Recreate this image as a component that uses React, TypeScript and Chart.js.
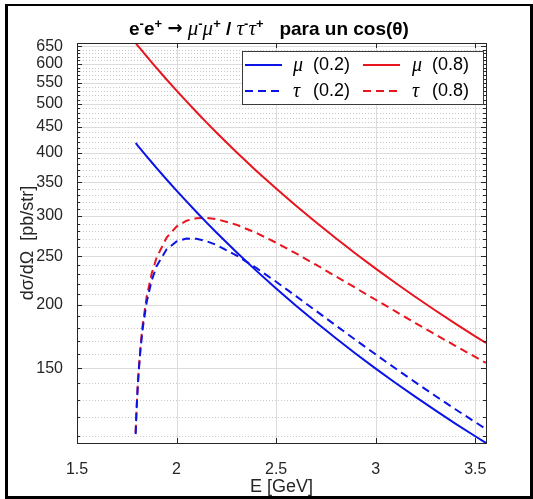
import React, { useEffect, useRef } from 'react';
import { Chart, registerables } from 'chart.js';

Chart.register(...registerables);

// ---- data ----
const energies = [1.7945, 1.797, 1.8, 1.805, 1.81, 1.82, 1.83, 1.85, 1.875, 1.9, 1.95, 2.0, 2.05, 2.1, 2.15, 2.2, 2.3, 2.4, 2.5, 2.6, 2.7, 2.8, 2.9, 3.0, 3.1, 3.2, 3.3, 3.4, 3.5, 3.554];
const muLow = [418.5, 417.36, 415.97, 413.67, 411.38, 406.88, 402.44, 393.78, 383.35, 373.33, 354.43, 336.93, 320.7, 305.6, 291.56, 278.45, 254.77, 233.98, 215.63, 199.37, 184.87, 171.9, 160.25, 149.74, 140.24, 131.61, 123.76, 116.58, 110.02, 106.7];
const muHigh = [660.0, 658.15, 655.95, 652.33, 648.72, 641.62, 634.63, 620.97, 604.53, 588.73, 558.92, 531.32, 505.72, 481.93, 459.77, 439.11, 401.76, 368.98, 340.04, 314.39, 291.54, 271.08, 252.71, 236.14, 221.16, 207.55, 195.16, 183.85, 173.5, 168.26];
const tauLow = [111.1, 118.18, 125.94, 137.54, 147.79, 165.31, 179.86, 202.82, 223.74, 238.85, 257.83, 267.28, 270.82, 270.49, 267.63, 263.05, 250.88, 236.86, 222.41, 208.29, 194.83, 182.24, 170.53, 159.73, 149.78, 140.61, 132.19, 124.45, 117.34, 113.73];
const tauHigh = [111.8, 118.97, 126.91, 138.83, 149.42, 167.67, 183.03, 207.71, 230.92, 248.41, 272.11, 286.07, 293.76, 297.17, 297.64, 295.97, 288.49, 277.85, 265.7, 253.03, 240.35, 228.02, 216.16, 204.91, 194.29, 184.28, 174.91, 166.13, 157.93, 153.71];

const seriesSymbols = ['μ', 'μ', 'τ', 'τ'];
const seriesCos = ['(0.2)', '(0.8)', '(0.2)', '(0.8)'];

const xTicks = [1.5, 2, 2.5, 3, 3.5];
const yTicks = [150, 200, 250, 300, 350, 400, 450, 500, 550, 600, 650];
const yMinorTicks = [110, 120, 130, 140, 160, 170, 180, 190, 210, 220, 230, 240, 260, 270, 280, 290, 310, 320, 330, 340, 360, 370, 380, 390, 410, 420, 430, 440, 460, 470, 480, 490, 510, 520, 530, 540, 560, 570, 580, 590, 610, 620, 630, 640];
const xRange = [1.5, 3.554];
const yRange = [106.7, 660];

const BLUE = 'rgb(10,20,230)';
const RED = 'rgb(232,20,30)';
const AX = '#262626';
const SANS = "'Liberation Sans', Arial, sans-serif";
const SERIF = "'Liberation Serif', 'Times New Roman', serif";

const pts = (ys: number[]) => energies.map((e, i) => ({ x: e, y: ys[i] }));

const decor = {
  id: 'decor',
  beforeDatasetsDraw(chart: any) {
    const { ctx, chartArea: a, scales } = chart;
    const x = scales.x, y = scales.y;
    ctx.save();
    ctx.lineWidth = 1;
    ctx.strokeStyle = '#c9c9c9';
    ctx.setLineDash([1, 2]);
    for (const v of yMinorTicks) {
      const py = Math.round(y.getPixelForValue(v)) + 0.5;
      ctx.beginPath(); ctx.moveTo(a.left, py); ctx.lineTo(a.right, py); ctx.stroke();
    }
    ctx.setLineDash([]);
    ctx.strokeStyle = '#dcdcdc';
    for (const v of yTicks) {
      const py = Math.round(y.getPixelForValue(v)) + 0.5;
      ctx.beginPath(); ctx.moveTo(a.left, py); ctx.lineTo(a.right, py); ctx.stroke();
    }
    for (const v of xTicks) {
      const px = Math.round(x.getPixelForValue(v)) + 0.5;
      ctx.beginPath(); ctx.moveTo(px, a.top); ctx.lineTo(px, a.bottom); ctx.stroke();
    }
    ctx.restore();
  },
  afterDatasetsDraw(chart: any) {
    const { ctx, chartArea: a, scales } = chart;
    const x = scales.x, y = scales.y;
    ctx.save();
    // axes box
    ctx.strokeStyle = AX;
    ctx.lineWidth = 1;
    ctx.strokeRect(Math.round(a.left) + 0.5, Math.round(a.top) + 0.5, Math.round(a.right - a.left), Math.round(a.bottom - a.top));
    // ticks (inward)
    ctx.beginPath();
    for (const v of xTicks) {
      const px = Math.round(x.getPixelForValue(v)) + 0.5;
      ctx.moveTo(px, a.bottom); ctx.lineTo(px, a.bottom - 5);
      ctx.moveTo(px, a.top); ctx.lineTo(px, a.top + 5);
    }
    for (const v of yTicks) {
      const py = Math.round(y.getPixelForValue(v)) + 0.5;
      ctx.moveTo(a.left, py); ctx.lineTo(a.left + 5, py);
      ctx.moveTo(a.right, py); ctx.lineTo(a.right - 5, py);
    }
    for (const v of yMinorTicks) {
      const py = Math.round(y.getPixelForValue(v)) + 0.5;
      ctx.moveTo(a.left, py); ctx.lineTo(a.left + 3, py);
      ctx.moveTo(a.right, py); ctx.lineTo(a.right - 3, py);
    }
    ctx.stroke();

    // legend
    const lx = 242.5, ly = 51.5, lw = 241, lh = 53;
    ctx.fillStyle = '#fff';
    ctx.fillRect(lx, ly, lw, lh);
    ctx.strokeStyle = '#3a3a3a';
    ctx.lineWidth = 1;
    ctx.strokeRect(lx, ly, lw, lh);
    const cols = [{ l: 245, s: 293 }, { l: 363, s: 412 }];
    const rows = [65, 91];
    chart.data.datasets.forEach((ds: any, i: number) => {
      const c = cols[i % 2];
      const r = rows[Math.floor(i / 2)];
      ctx.strokeStyle = ds.borderColor;
      ctx.lineWidth = 2;
      ctx.setLineDash(ds.borderDash || []);
      ctx.beginPath(); ctx.moveTo(c.l, r); ctx.lineTo(c.l + 37, r); ctx.stroke();
      ctx.setLineDash([]);
      ctx.fillStyle = '#000';
      ctx.textBaseline = 'middle';
      ctx.textAlign = 'left';
      ctx.font = `italic 20px ${SERIF}`;
      ctx.fillText(seriesSymbols[i], c.s, r + 1);
      ctx.font = `18px ${SANS}`;
      ctx.fillText(seriesCos[i], c.s + 20, r);
    });

    // title
    const base = `bold 19px ${SANS}`;
    const arrow = `bold 18px 'DejaVu Sans', sans-serif`;
    const sup = `bold 13px ${SANS}`;
    const greek = `italic 21px ${SERIF}`;
    const parts: { t: string; f: string; s?: boolean; dy?: number }[] = [
      { t: 'e', f: base }, { t: '-', f: sup, s: true }, { t: 'e', f: base }, { t: '+', f: sup, s: true },
      { t: ' ', f: base }, { t: '→', f: arrow, dy: -1 }, { t: ' ', f: base },
      { t: 'μ', f: greek }, { t: '-', f: sup, s: true }, { t: 'μ', f: greek }, { t: '+', f: sup, s: true },
      { t: ' / ', f: base },
      { t: 'τ', f: greek }, { t: '-', f: sup, s: true }, { t: 'τ', f: greek }, { t: '+', f: sup, s: true },
      { t: '   para un cos(θ)', f: base },
    ];
    let total = 0;
    for (const p of parts) { ctx.font = p.f; total += ctx.measureText(p.t).width; }
    let tx = 269 - total / 2;
    ctx.fillStyle = '#000';
    ctx.textBaseline = 'alphabetic';
    ctx.textAlign = 'left';
    for (const p of parts) {
      ctx.font = p.f;
      ctx.fillText(p.t, tx, (p.s ? 28 : 35) + (p.dy || 0));
      tx += ctx.measureText(p.t).width;
    }

    // axis labels
    ctx.fillStyle = AX;
    ctx.font = `18px ${SANS}`;
    ctx.textAlign = 'center';
    ctx.textBaseline = 'middle';
    ctx.fillText('E [GeV]', (a.left + a.right) / 2, 487);
    ctx.save();
    ctx.translate(28, (a.top + a.bottom) / 2);
    ctx.rotate(-Math.PI / 2);
    ctx.fillText('dσ/dΩ  [pb/str]', 0, 0);
    ctx.restore();

    // outer frame
    ctx.fillStyle = '#000';
    ctx.fillRect(5, 4, 3, 495);
    ctx.fillRect(5, 4, 528, 2);
    ctx.fillRect(5, 496, 528, 3);
    ctx.fillRect(530, 4, 3, 495);
    ctx.restore();
  },
};

export default function App() {
  const ref = useRef<HTMLCanvasElement>(null);
  useEffect(() => {
    const mk = (label: string, ys: number[], color: string, dashed: boolean) => ({
      label,
      data: pts(ys),
      borderColor: color,
      backgroundColor: color,
      borderWidth: 2,
      borderDash: dashed ? [8, 5] : [],
      pointRadius: 0,
      tension: 0,
      fill: false,
    });
    const chart = new Chart(ref.current as HTMLCanvasElement, {
      type: 'line',
      data: {
        datasets: [
          mk('μ (0.2)', muLow, BLUE, false),
          mk('μ (0.8)', muHigh, RED, false),
          mk('τ (0.2)', tauLow, BLUE, true),
          mk('τ (0.8)', tauHigh, RED, true),
        ],
      },
      options: {
        animation: false,
        responsive: false,
        devicePixelRatio: 1,
        layout: { padding: { top: 43, right: 47, left: 0, bottom: 0 } },
        plugins: { legend: { display: false }, title: { display: false }, tooltip: { enabled: false } },
        scales: {
          x: {
            type: 'linear',
            min: xRange[0],
            max: xRange[1],
            grid: { display: false },
            border: { display: false },
            afterBuildTicks: (s: any) => { s.ticks = xTicks.map((v) => ({ value: v })); },
            afterFit: (s: any) => { s.height = 56; },
            ticks: {
              autoSkip: false,
              maxRotation: 0,
              padding: 9,
              color: AX,
              font: { family: SANS, size: 16 },
              callback: (v: any) => String(v),
            },
          },
          y: {
            type: 'logarithmic',
            min: yRange[0],
            max: yRange[1],
            grid: { display: false },
            border: { display: false },
            afterBuildTicks: (s: any) => { s.ticks = yTicks.map((v) => ({ value: v })); },
            afterFit: (s: any) => { s.width = 77; },
            ticks: {
              autoSkip: false,
              padding: 6,
              color: AX,
              font: { family: SANS, size: 16 },
              callback: (v: any) => String(v),
            },
          },
        },
      },
      plugins: [decor],
    } as any);
    return () => chart.destroy();
  }, []);
  return (
    <div style={{ position: 'absolute', left: 0, top: 0, width: 533, height: 499, background: '#fff' }}>
      <canvas ref={ref} width={533} height={499} style={{ display: 'block', width: 533, height: 499 }} />
    </div>
  );
}
